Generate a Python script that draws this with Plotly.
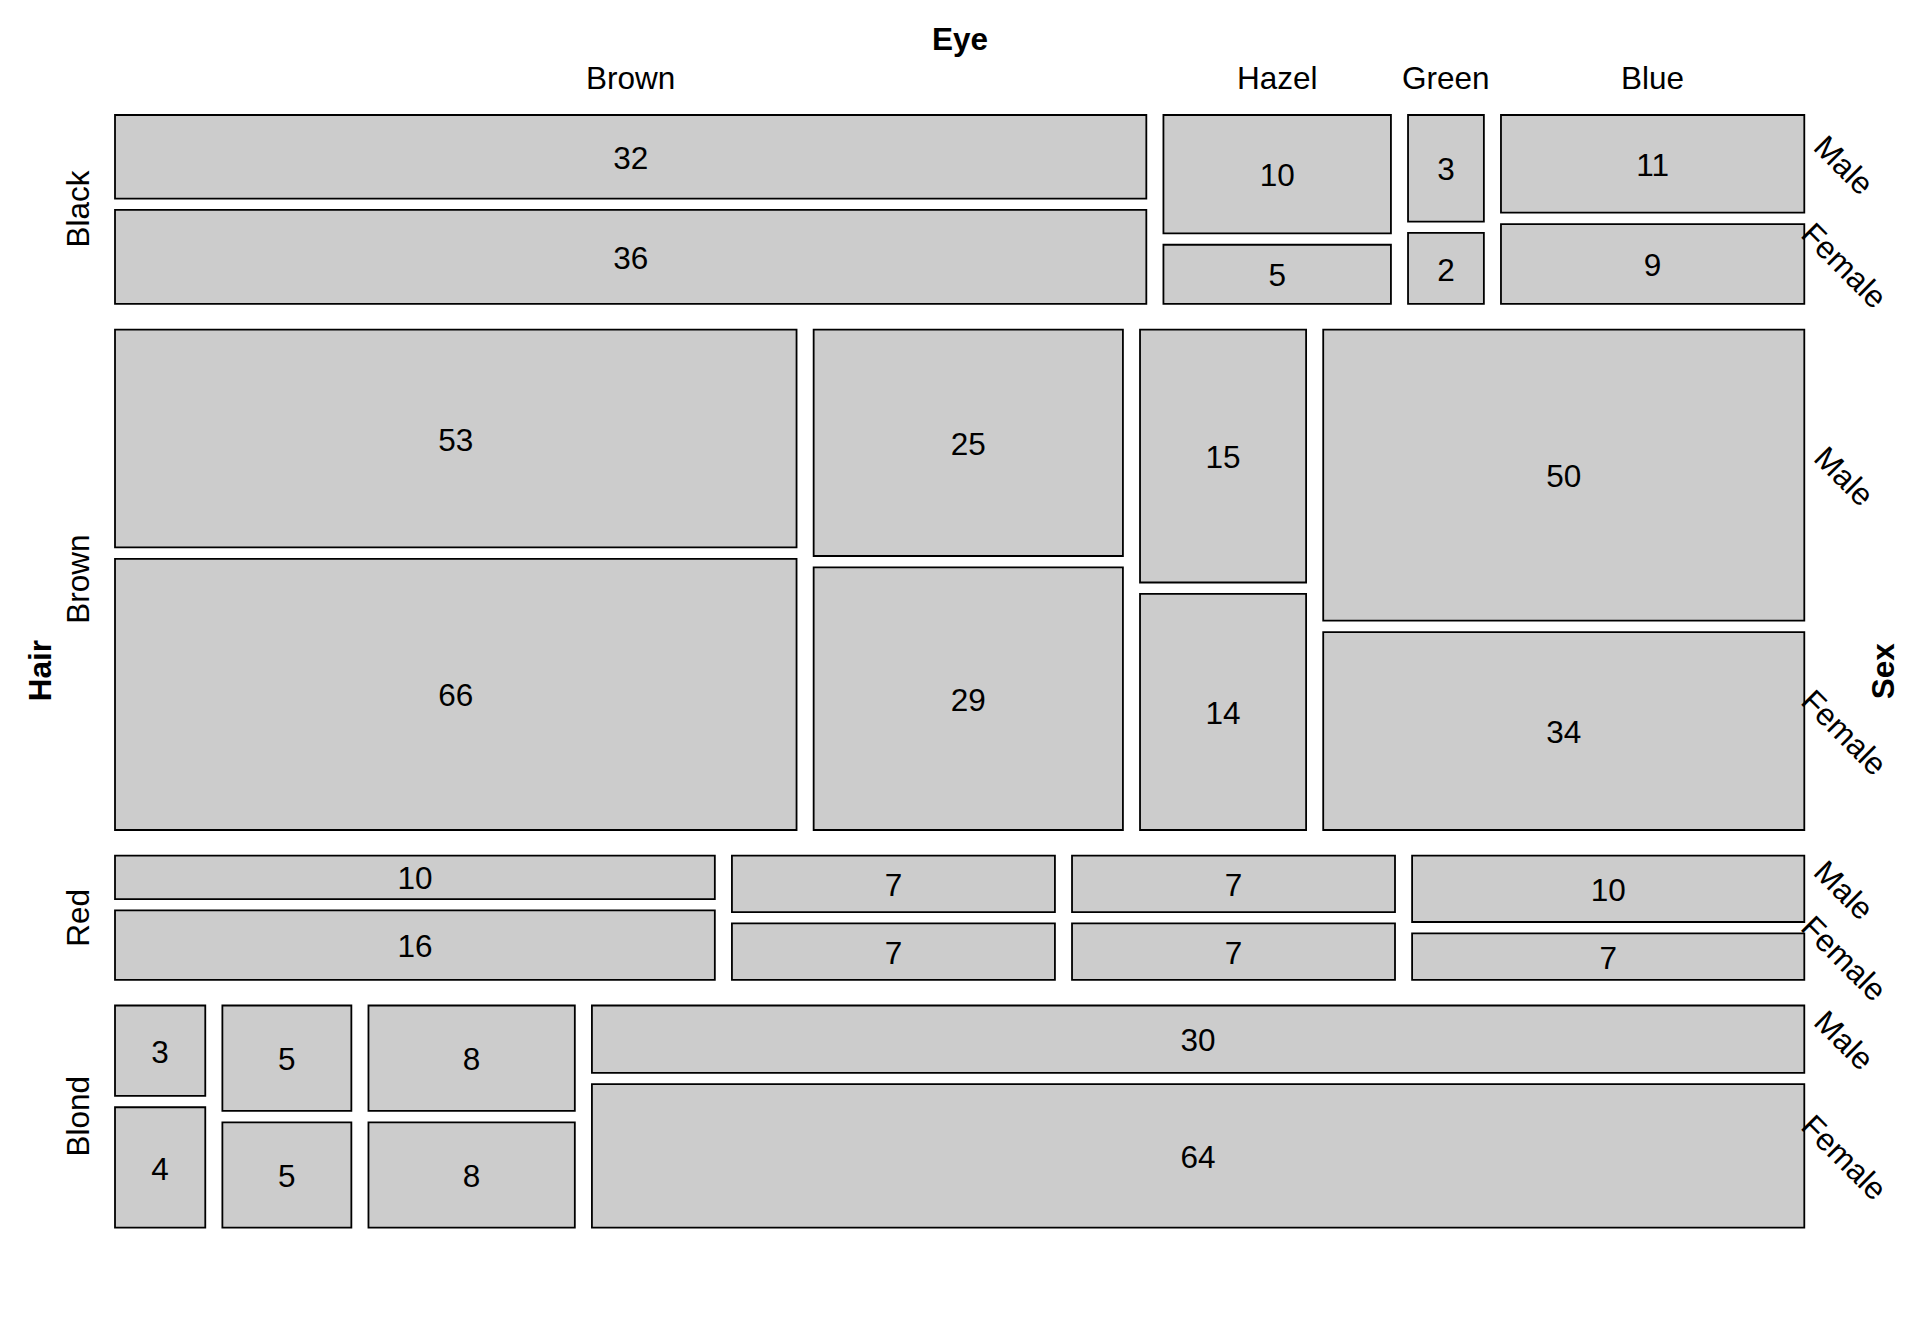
import plotly.graph_objects as go

# ---- data (HairEyeColor) ----
hair_levels = ["Black", "Brown", "Red", "Blond"]
eye_levels = ["Brown", "Hazel", "Green", "Blue"]
sex_levels = ["Male", "Female"]
male_counts = [[32, 10, 3, 11],
               [53, 25, 15, 50],
               [10, 7, 7, 10],
               [3, 5, 8, 30]]
female_counts = [[36, 5, 2, 9],
                 [66, 29, 14, 34],
                 [16, 7, 7, 7],
                 [4, 5, 8, 64]]

# ---- layout constants (pixels) ----
W, H = 1920, 1344
X0, X1 = 115.0, 1804.3
Y0, Y1 = 115.0, 1227.7
SG = 11.4          # sex gap
EG = SG * 1.5      # eye gap
HG = EG * 1.5      # hair gap
FONT = "Liberation Sans, Arial, sans-serif"
FS = 31.5
TXT_OFF = 4.2      # visual centring of digits
LW = 1.8

hair_tot = [sum(m) + sum(f) for m, f in zip(male_counts, female_counts)]
grand = sum(hair_tot)
avail_h = (Y1 - Y0) - (len(hair_levels) - 1) * HG
avail_w = (X1 - X0) - (len(eye_levels) - 1) * EG

shapes = []
tx, ty, tt = [], [], []
annotations = []
row_centers = []
top_col_centers = []

y = Y0
for i, h in enumerate(hair_levels):
    rh = avail_h * hair_tot[i] / grand
    row_centers.append(y + rh / 2)
    x = X0
    for j, e in enumerate(eye_levels):
        m = male_counts[i][j]
        f = female_counts[i][j]
        cw = avail_w * (m + f) / hair_tot[i]
        if i == 0:
            top_col_centers.append(x + cw / 2)
        mh = (rh - SG) * m / (m + f)
        cells = [(y, y + mh, m, sex_levels[0]), (y + mh + SG, y + rh, f, sex_levels[1])]
        for (ya, yb, v, s) in cells:
            shapes.append(dict(type="rect", xref="x", yref="y",
                               x0=x, x1=x + cw, y0=ya, y1=yb,
                               fillcolor="#CCCCCC",
                               line=dict(color="black", width=LW),
                               layer="below"))
            tx.append(x + cw / 2)
            ty.append((ya + yb) / 2 + TXT_OFF)
            tt.append(str(v))
            if j == len(eye_levels) - 1:
                annotations.append(dict(x=1844, y=(ya + yb) / 2 + 1, xref="x", yref="y",
                                        text=s, showarrow=False, textangle=45,
                                        xanchor="center", yanchor="middle",
                                        font=dict(family=FONT, size=FS, color="black")))
        x += cw + EG
    y += rh + HG

# top eye labels
for e, cx in zip(eye_levels, top_col_centers):
    annotations.append(dict(x=cx, y=78, xref="x", yref="y", text=e, showarrow=False,
                            xanchor="center", yanchor="middle",
                            font=dict(family=FONT, size=FS, color="black")))
# left hair labels
for h, cy in zip(hair_levels, row_centers):
    annotations.append(dict(x=78, y=cy, xref="x", yref="y", text=h, showarrow=False,
                            textangle=-90, xanchor="center", yanchor="middle",
                            font=dict(family=FONT, size=FS, color="black")))
# variable names
annotations.append(dict(x=(X0 + X1) / 2, y=39, xref="x", yref="y", text="<b>Eye</b>",
                        showarrow=False, xanchor="center", yanchor="middle",
                        font=dict(family=FONT, size=FS, color="black")))
annotations.append(dict(x=40, y=(Y0 + Y1) / 2, xref="x", yref="y", text="<b>Hair</b>",
                        showarrow=False, textangle=-90, xanchor="center", yanchor="middle",
                        font=dict(family=FONT, size=FS, color="black")))
annotations.append(dict(x=1883, y=(Y0 + Y1) / 2, xref="x", yref="y", text="<b>Sex</b>",
                        showarrow=False, textangle=-90, xanchor="center", yanchor="middle",
                        font=dict(family=FONT, size=FS, color="black")))

fig = go.Figure()
fig.add_trace(go.Scatter(x=tx, y=ty, text=tt, mode="text", textposition="middle center",
                         textfont=dict(family=FONT, size=FS, color="black"),
                         hoverinfo="skip", showlegend=False))
fig.update_layout(width=W, height=H, margin=dict(l=0, r=0, t=0, b=0),
                  paper_bgcolor="white", plot_bgcolor="white",
                  shapes=shapes, annotations=annotations, showlegend=False,
                  xaxis=dict(range=[0, W], visible=False, fixedrange=True),
                  yaxis=dict(range=[H, 0], visible=False, fixedrange=True))
fig.write_html("out.html")
